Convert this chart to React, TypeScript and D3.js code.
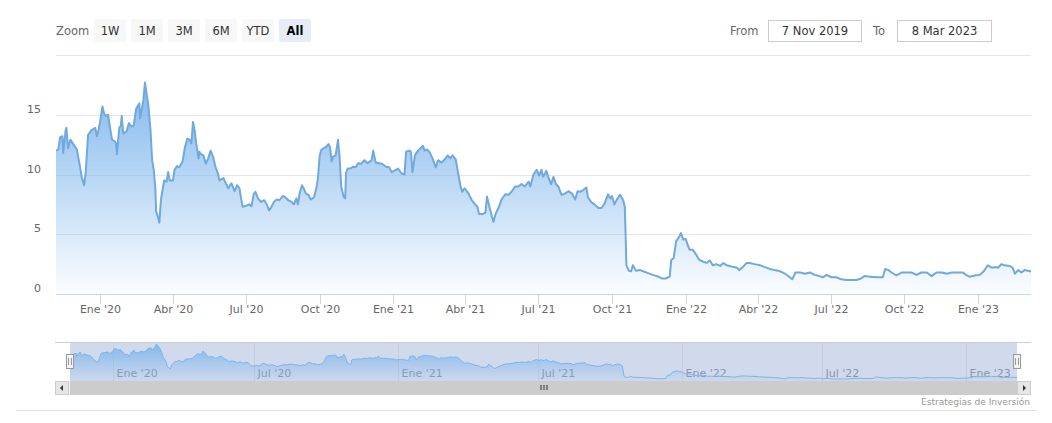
import React from 'react';
import * as d3 from 'd3';

// ---------- DATA ----------
const dates: string[] = [
  '2019-11-07','2019-11-10','2019-11-12','2019-11-15','2019-11-16','2019-11-19','2019-11-20','2019-11-22','2019-11-25','2019-11-29',
  '2019-12-03','2019-12-07','2019-12-09','2019-12-12','2019-12-14','2019-12-17','2019-12-21','2019-12-26','2019-12-28','2019-12-30',
  '2020-01-01','2020-01-04','2020-01-06','2020-01-08','2020-01-11','2020-01-13','2020-01-16','2020-01-19','2020-01-21','2020-01-22',
  '2020-01-25','2020-01-27','2020-01-28','2020-01-30','2020-02-03','2020-02-06','2020-02-09','2020-02-12','2020-02-15','2020-02-19',
  '2020-02-20','2020-02-24','2020-02-26','2020-02-28','2020-03-01','2020-03-04','2020-03-06','2020-03-08','2020-03-10','2020-03-11',
  '2020-03-13','2020-03-15','2020-03-17','2020-03-19','2020-03-21','2020-03-24','2020-03-26','2020-03-28','2020-04-01','2020-04-03',
  '2020-04-06','2020-04-09','2020-04-13','2020-04-16','2020-04-19','2020-04-22','2020-04-24','2020-04-26','2020-04-28','2020-04-30',
  '2020-05-03','2020-05-04','2020-05-06','2020-05-09','2020-05-12','2020-05-15','2020-05-18','2020-05-21','2020-05-24','2020-05-27',
  '2020-05-29','2020-06-03','2020-06-06','2020-06-09','2020-06-13','2020-06-17','2020-06-20','2020-06-23','2020-06-25','2020-06-27',
  '2020-07-02','2020-07-05','2020-07-08','2020-07-11','2020-07-13','2020-07-16','2020-07-20','2020-07-24','2020-07-27','2020-07-30',
  '2020-08-02','2020-08-05','2020-08-08','2020-08-12','2020-08-16','2020-08-19','2020-08-23','2020-08-27','2020-08-30','2020-09-02',
  '2020-09-04','2020-09-06','2020-09-09','2020-09-11','2020-09-14','2020-09-17','2020-09-20','2020-09-24','2020-09-27','2020-09-29',
  '2020-10-01','2020-10-03','2020-10-06','2020-10-09','2020-10-12','2020-10-14','2020-10-16','2020-10-18','2020-10-21','2020-10-24',
  '2020-10-26','2020-10-28','2020-10-31','2020-11-02','2020-11-03','2020-11-05','2020-11-08','2020-11-12','2020-11-15','2020-11-18',
  '2020-11-22','2020-11-26','2020-11-30','2020-12-05','2020-12-07','2020-12-10','2020-12-14','2020-12-18','2020-12-23','2020-12-27',
  '2020-12-30','2021-01-03','2021-01-07','2021-01-11','2021-01-15','2021-01-17','2021-01-21','2021-01-23','2021-01-25','2021-01-28',
  '2021-02-01','2021-02-04','2021-02-07','2021-02-09','2021-02-12','2021-02-15','2021-02-19','2021-02-23','2021-02-26','2021-03-02',
  '2021-03-06','2021-03-10','2021-03-13','2021-03-16','2021-03-20','2021-03-23','2021-03-26','2021-03-28','2021-03-31','2021-04-05',
  '2021-04-09','2021-04-13','2021-04-16','2021-04-18','2021-04-23','2021-04-26','2021-04-28','2021-05-01','2021-05-04','2021-05-06',
  '2021-05-09','2021-05-13','2021-05-16','2021-05-21','2021-05-25','2021-05-29','2021-06-02','2021-06-06','2021-06-10','2021-06-14',
  '2021-06-19','2021-06-21','2021-06-25','2021-06-29','2021-07-02','2021-07-05','2021-07-07','2021-07-11','2021-07-14','2021-07-17',
  '2021-07-20','2021-07-23','2021-07-26','2021-07-30','2021-08-03','2021-08-08','2021-08-12','2021-08-16','2021-08-19','2021-08-22',
  '2021-08-26','2021-08-30','2021-09-01','2021-09-05','2021-09-09','2021-09-14','2021-09-18','2021-09-22','2021-09-26','2021-09-29',
  '2021-10-01','2021-10-04','2021-10-07','2021-10-11','2021-10-15','2021-10-17','2021-10-19','2021-10-22','2021-10-25','2021-10-27',
  '2021-10-31','2021-11-05','2021-11-09','2021-11-15','2021-11-21','2021-11-28','2021-12-02','2021-12-07','2021-12-12','2021-12-14',
  '2021-12-17','2021-12-20','2021-12-24','2021-12-26','2021-12-29','2022-01-01','2022-01-04','2022-01-06','2022-01-10','2022-01-13',
  '2022-01-18','2022-01-23','2022-01-27','2022-01-31','2022-02-04','2022-02-08','2022-02-13','2022-02-17','2022-02-21','2022-02-27',
  '2022-03-06','2022-03-09','2022-03-14','2022-03-18','2022-03-22','2022-03-28','2022-04-04','2022-04-10','2022-04-16','2022-04-22',
  '2022-04-29','2022-05-05','2022-05-11','2022-05-14','2022-05-18','2022-05-24','2022-05-30','2022-06-05','2022-06-11','2022-06-17',
  '2022-06-21','2022-06-26','2022-07-02','2022-07-08','2022-07-14','2022-07-21','2022-07-27','2022-08-02','2022-08-08','2022-08-12',
  '2022-08-19','2022-08-27','2022-09-04','2022-09-07','2022-09-11','2022-09-15','2022-09-21','2022-09-28','2022-10-04','2022-10-10',
  '2022-10-16','2022-10-22','2022-10-29','2022-11-04','2022-11-10','2022-11-17','2022-11-23','2022-11-29','2022-12-05','2022-12-13',
  '2022-12-17','2022-12-21','2022-12-28','2023-01-03','2023-01-08','2023-01-13','2023-01-18','2023-01-23','2023-01-26','2023-01-30',
  '2023-02-03','2023-02-09','2023-02-13','2023-02-16','2023-02-20','2023-02-24','2023-02-28','2023-03-07','2023-03-08',
];

const prices: number[] = [
  12.0,12.1,13.1,13.2,11.8,13.7,13.9,12.2,12.9,12.5,
  12.1,10.65,9.8,9.1,10.1,13.3,13.7,13.9,13.2,13.7,
  14.4,15.7,15.1,14.9,15.0,14.1,12.9,12.8,12.6,11.7,
  13.9,14.1,14.9,13.45,13.6,14.3,14.0,14.1,15.5,15.95,
  14.7,16.2,17.7,16.8,15.95,13.7,11.2,10.4,8.85,6.9,
  6.5,5.97,7.9,8.7,9.5,9.4,10.2,9.5,9.5,10.4,
  10.7,10.6,11.1,12.3,13.0,12.9,12.6,14.4,13.7,12.6,
  11.35,11.9,11.7,11.6,10.9,11.35,12.0,11.5,10.65,10.1,
  9.5,9.7,9.26,8.85,9.26,8.6,9.1,8.85,8.0,7.3,
  7.4,7.5,7.35,8.4,8.55,8.0,7.7,7.85,7.5,7.0,
  7.3,7.7,7.9,7.85,8.2,8.1,7.85,7.7,7.5,8.0,
  7.5,8.4,9.1,8.85,8.4,8.3,7.9,8.1,8.85,9.7,
  11.5,12.05,12.2,12.3,12.55,12.3,11.1,11.5,11.6,12.9,
  11.5,9.0,8.15,8.0,10.1,10.5,10.5,10.65,10.6,10.95,
  10.9,11.2,10.95,11.2,12.0,11.0,10.95,10.9,10.65,10.6,
  10.2,10.35,10.5,10.1,10.0,11.9,12.0,11.9,10.2,11.6,
  12.0,12.2,12.4,12.0,12.1,11.9,11.35,10.6,11.2,11.0,
  11.25,11.6,11.35,11.6,11.25,10.1,9.0,8.55,8.85,8.4,
  7.85,7.5,7.3,6.7,6.7,6.8,8.15,7.3,6.5,6.05,
  6.75,7.3,7.9,8.35,8.3,8.6,9.0,9.0,9.2,9.0,
  9.4,9.0,10.0,10.4,9.9,10.4,9.8,10.3,9.7,9.2,
  9.8,9.2,9.0,8.3,8.4,8.6,8.4,7.9,8.6,8.55,
  8.7,8.9,8.1,7.7,7.5,7.2,7.2,7.6,8.35,8.0,
  8.2,7.5,7.9,8.3,7.85,7.3,2.4,1.95,1.9,2.4,
  1.95,2.0,1.9,1.75,1.6,1.45,1.3,1.3,1.45,2.85,
  3.0,4.4,4.8,5.1,4.55,4.6,4.0,3.7,3.7,3.4,
  2.85,2.7,2.6,2.8,2.4,2.5,2.35,2.6,2.4,2.3,
  2.2,2.0,2.3,2.6,2.6,2.5,2.4,2.25,2.1,2.0,
  1.9,1.7,1.4,1.23,1.8,1.8,1.7,1.8,1.6,1.5,
  1.4,1.6,1.4,1.4,1.23,1.17,1.17,1.17,1.3,1.5,
  1.45,1.4,1.4,2.1,2.0,1.8,1.55,1.8,1.8,1.8,
  1.6,1.8,1.8,1.5,1.8,1.8,1.7,1.8,1.8,1.8,
  1.6,1.45,1.55,1.6,1.9,2.4,2.2,2.25,2.2,2.5,
  2.4,2.35,2.2,1.7,2.0,1.8,2.0,1.9,1.85,
];

const yTicks: number[] = [0, 5, 10, 15, 20];
const yTickLabels: string[] = ['0', '5', '10', '15', ''];

const xTickDates: string[] = [
  '2020-01-01','2020-04-01','2020-07-01','2020-10-01','2021-01-01','2021-04-01','2021-07-01',
  '2021-10-01','2022-01-01','2022-04-01','2022-07-01','2022-10-01','2023-01-01',
];
const xTickLabels: string[] = [
  "Ene '20","Abr '20","Jul '20","Oct '20","Ene '21","Abr '21","Jul '21",
  "Oct '21","Ene '22","Abr '22","Jul '22","Oct '22","Ene '23",
];

const navTickDates: string[] = ['2020-01-01','2020-07-01','2021-01-01','2021-07-01','2022-01-01','2022-07-01','2023-01-01'];
const navTickLabels: string[] = ["Ene '20","Jul '20","Ene '21","Jul '21","Ene '22","Jul '22","Ene '23"];

const zoomButtons: string[] = ['1W', '1M', '3M', '6M', 'YTD', 'All'];
const selectedButton = 'All';
const fromDate = '7 Nov 2019';
const toDate = '8 Mar 2023';
const rangeStart = '2019-11-07';
const rangeEnd = '2023-03-08';
const creditsText = 'Estrategias de Inversión';

// ---------- COMPONENT ----------
const FONT = "'DejaVu Sans', 'Lucida Grande', Arial, sans-serif";

export default function App() {
  const parse = d3.utcParse('%Y-%m-%d');
  const data = dates.map((d, i) => ({ date: parse(d) as Date, v: prices[i] }));
  const domain: [Date, Date] = [parse(rangeStart) as Date, parse(rangeEnd) as Date];

  // main plot
  const left = 56, right = 1031, top = 55, bottom = 294;
  const x = d3.scaleUtc().domain(domain).range([left, right]);
  const y = d3.scaleLinear().domain([0, 20]).range([bottom, top]);

  const area = d3.area<{ date: Date; v: number }>()
    .x(d => x(d.date)).y0(y(0)).y1(d => y(d.v));
  const line = d3.line<{ date: Date; v: number }>()
    .x(d => x(d.date)).y(d => y(d.v));

  // navigator
  const nLeft = 70, nRight = 1017, nTop = 342, nBottom = 381;
  const nx = d3.scaleUtc().domain(domain).range([nLeft, nRight]);
  const vmin = d3.min(prices) as number, vmax = d3.max(prices) as number;
  const ny = d3.scaleLinear().domain([vmin, vmax]).range([379, 344]);
  const nArea = d3.area<{ date: Date; v: number }>()
    .x(d => nx(d.date)).y0(nBottom).y1(d => ny(d.v));
  const nLine = d3.line<{ date: Date; v: number }>()
    .x(d => nx(d.date)).y(d => ny(d.v));

  const sbTop = 381, sbH = 14, sbLeft = 55, sbRight = 1031;

  return (
    <svg width={1052} height={423} style={{ position: 'absolute', left: 0, top: 0, background: '#fff' }}
      fontFamily={FONT}>
      <defs>
        <linearGradient id="mainGrad" x1="0" y1="0" x2="0" y2="1">
          <stop offset="0" stopColor="#7cb5ec" stopOpacity={0.95} />
          <stop offset="1" stopColor="#7cb5ec" stopOpacity={0.03} />
        </linearGradient>
        <linearGradient id="navGrad" x1="0" y1="0" x2="0" y2="1">
          <stop offset="0" stopColor="#7cb5ec" stopOpacity={0.9} />
          <stop offset="1" stopColor="#7cb5ec" stopOpacity={0.05} />
        </linearGradient>
        <clipPath id="plotClip">
          <rect x={left} y={top - 5} width={right - left} height={bottom - top + 5} />
        </clipPath>
      </defs>

      {/* range selector */}
      <text x={56} y={35} fontSize={11.5} fill="#666">Zoom</text>
      {zoomButtons.map((b, i) => {
        const bx = 94 + i * 37;
        const sel = b === selectedButton;
        return (
          <g key={b}>
            <rect x={bx} y={19} width={32} height={23} rx={2} fill={sel ? '#e6ebf5' : '#f7f7f7'} />
            <text x={bx + 16} y={35} textAnchor="middle" fontSize={11.5}
              fill={sel ? '#000' : '#333'} fontWeight={sel ? 'bold' : 'normal'}>{b}</text>
          </g>
        );
      })}
      <text x={730} y={35} fontSize={11.5} fill="#666">From</text>
      <rect x={768.5} y={20.5} width={93} height={21} fill="#fff" stroke="#ccc" />
      <text x={815} y={35} textAnchor="middle" fontSize={11.5} fill="#333">{fromDate}</text>
      <text x={873} y={35} fontSize={11.5} fill="#666">To</text>
      <rect x={897.5} y={20.5} width={94} height={21} fill="#fff" stroke="#ccc" />
      <text x={944.5} y={35} textAnchor="middle" fontSize={11.5} fill="#333">{toDate}</text>

      {/* grid */}
      {yTicks.map(t => (
        <line key={t} x1={left} x2={right} y1={Math.round(y(t)) + 0.5} y2={Math.round(y(t)) + 0.5}
          stroke="#e6e6e6" strokeWidth={1} />
      ))}
      {yTicks.map((t, i) => (
        <text key={'yl' + t} x={41} y={y(t) - 2} textAnchor="end" fontSize={11} fill="#666">{yTickLabels[i]}</text>
      ))}

      {/* series */}
      <g clipPath="url(#plotClip)">
        <path d={area(data) as string} fill="url(#mainGrad)" />
        <path d={line(data) as string} fill="none" stroke="#6fa9de" strokeWidth={2} strokeLinejoin="round" />
      </g>

      {/* x axis */}
      <line x1={left} x2={right} y1={bottom + 0.5} y2={bottom + 0.5} stroke="#ccd6eb" />
      {xTickDates.map((d, i) => {
        const tx = Math.round(x(parse(d) as Date)) + 0.5;
        return (
          <g key={d}>
            <line x1={tx} x2={tx} y1={bottom} y2={bottom + 10} stroke="#ccd6eb" />
            <text x={tx} y={313} textAnchor="middle" fontSize={11} fill="#666">{xTickLabels[i]}</text>
          </g>
        );
      })}

      {/* navigator */}
      <rect x={nLeft} y={nTop} width={nRight - nLeft} height={nBottom - nTop} fill="rgba(102,133,194,0.3)" />
      {navTickDates.map((d, i) => {
        const tx = Math.round(nx(parse(d) as Date)) + 0.5;
        return (
          <g key={'n' + d}>
            <line x1={tx} x2={tx} y1={nTop} y2={nBottom} stroke="#c6cedd" />
            <text x={tx + 3} y={377} fontSize={11} fill="#8a96ad">{navTickLabels[i]}</text>
          </g>
        );
      })}
      <path d={nArea(data) as string} fill="url(#navGrad)" />
      <path d={nLine(data) as string} fill="none" stroke="#7cb5ec" strokeWidth={1} />
      <line x1={sbLeft} x2={sbRight} y1={nTop + 0.5} y2={nTop + 0.5} stroke="#ccc" />

      {/* scrollbar */}
      <rect x={sbLeft} y={sbTop} width={sbRight - sbLeft} height={sbH} fill="#f2f2f2" />
      <rect x={nLeft} y={sbTop} width={nRight - nLeft} height={sbH} fill="#cccccc" />
      <rect x={sbLeft + 0.5} y={sbTop + 0.5} width={13} height={sbH - 1} fill="#e6e6e6" stroke="#ccc" />
      <path d={`M${sbLeft + 8},${sbTop + 4} L${sbLeft + 8},${sbTop + 10} L${sbLeft + 5},${sbTop + 7} Z`} fill="#333" />
      <rect x={sbRight - 13.5} y={sbTop + 0.5} width={13} height={sbH - 1} fill="#e6e6e6" stroke="#ccc" />
      <path d={`M${sbRight - 8},${sbTop + 4} L${sbRight - 8},${sbTop + 10} L${sbRight - 5},${sbTop + 7} Z`} fill="#333" />
      {[-3, 0, 3].map(o => (
        <line key={o} x1={(nLeft + nRight) / 2 + o + 0.5} x2={(nLeft + nRight) / 2 + o + 0.5}
          y1={sbTop + 4} y2={sbTop + 9} stroke="#333" />
      ))}

      {/* handles */}
      {[nLeft, nRight].map(hx => (
        <g key={'h' + hx}>
          <rect x={Math.round(hx) - 3.5} y={354.5} width={7} height={14} fill="#f2f2f2" stroke="#999" />
          <line x1={Math.round(hx) - 1.5} x2={Math.round(hx) - 1.5} y1={358} y2={365} stroke="#999" />
          <line x1={Math.round(hx) + 1.5} x2={Math.round(hx) + 1.5} y1={358} y2={365} stroke="#999" />
        </g>
      ))}

      {/* credits and bottom border */}
      <text x={1030} y={405} textAnchor="end" fontSize={9} fill="#999">{creditsText}</text>
      <line x1={16} x2={1036} y1={410.5} y2={410.5} stroke="#ddd" />
    </svg>
  );
}
